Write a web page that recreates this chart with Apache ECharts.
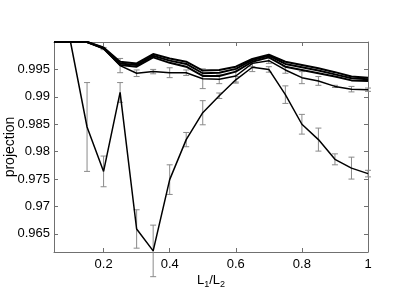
<!DOCTYPE html>
<html>
<head>
<meta charset="utf-8">
<script src="https://cdn.jsdelivr.net/npm/echarts@6/dist/echarts.min.js"></script>
<style>html,body{margin:0;padding:0;background:#fff}#c{width:407px;height:306px}</style>
</head>
<body>
<div id="c"></div>
<script>
const xs = [0.05,0.1,0.15,0.2,0.25,0.3,0.35,0.4,0.45,0.5,0.55,0.6,0.65,0.7,0.75,0.8,0.85,0.9,0.95,1.0];
const dip = [1.0,1.0,0.9845,0.9764,0.9908,0.9659,0.9619,0.9749,0.9822,0.9871,0.9902,0.9931,0.9954,0.9950,0.9904,0.9850,0.9822,0.9786,0.9770,0.9760];
const dipErr = [0,0,0.0081,0.0028,0.0018,0.0035,0.0047,0.0027,0.0013,0.0022,0.0005,0.0006,0.0008,0.0005,0.0016,0.0018,0.0021,0.0010,0.0020,0.0006];
const lineA = [1,1,1,0.9990,0.9964,0.9961,0.9978,0.9970,0.9964,0.9948,0.9949,0.9955,0.9969,0.9977,0.9964,0.9958,0.9952,0.9945,0.9937,0.9935];
const lineB = [1,1,1,0.9989,0.9961,0.9958,0.9975,0.9966,0.9960,0.9943,0.9944,0.9951,0.9967,0.9975,0.9960,0.9954,0.9948,0.9941,0.9934,0.9932];
const lineC = [1,1,1,0.9988,0.9958,0.9955,0.9972,0.9962,0.9955,0.9938,0.9938,0.9946,0.9964,0.9972,0.9955,0.9949,0.9943,0.9937,0.9930,0.9929];
const lineD = [1,1,1,0.9988,0.9957,0.9943,0.9946,0.9944,0.9944,0.9933,0.9932,0.9938,0.9961,0.9966,0.9949,0.9935,0.9929,0.9919,0.9914,0.9913];
const errD = [0,0,0,0.0002,0.0013,0.0006,0.0004,0.0009,0.0005,0.0018,0.0008,0.0011,0.0006,0.0005,0.0006,0.0011,0.0008,0.0002,0.0005,0.0003];
const xTicks = [0.2,0.4,0.6,0.8,1];
const yTicks = [0.965,0.97,0.975,0.98,0.985,0.99,0.995];

const pairs = (ys) => xs.map((x,i)=>[x,ys[i]]);
const errData = (ys, es) => xs.map((x,i)=>[x, ys[i]-es[i], ys[i]+es[i]]).filter((d,i)=>es[i]>0);

function errRender(params, api){
  const x = api.value(0);
  const p1 = api.coord([x, api.value(1)]);
  const p2 = api.coord([x, api.value(2)]);
  const w = 3;
  const st = {stroke:'#8a8a8a', lineWidth:1};
  return {type:'group', children:[
    {type:'line', shape:{x1:p1[0],y1:p1[1],x2:p2[0],y2:p2[1]}, style:st},
    {type:'line', shape:{x1:p1[0]-w,y1:p1[1],x2:p1[0]+w,y2:p1[1]}, style:st},
    {type:'line', shape:{x1:p2[0]-w,y1:p2[1],x2:p2[0]+w,y2:p2[1]}, style:st}
  ]};
}

const font = 'Liberation Sans, Arial, sans-serif';
const axisCol = '#707070';
const chart = echarts.init(document.getElementById('c'));
const lineSeries = (ys, w) => ({type:'line', data:pairs(ys), showSymbol:false, symbol:'none',
  lineStyle:{color:'#000', width:w}, z:5, silent:true, animation:false});

chart.setOption({
  animation:false,
  grid:{left:54, right:39, top:42, bottom:54, containLabel:false, outerBoundsMode:'none'},
  xAxis:[{
    type:'value', min:0.05, max:1, position:'bottom',
    axisLine:{lineStyle:{color:axisCol}},
    axisTick:{inside:true, length:4, lineStyle:{color:axisCol}, customValues:xTicks},
    axisLabel:{color:'#000', fontSize:13, fontFamily:font, customValues:xTicks, margin:6,
      formatter:(v)=>String(Math.round(v*10)/10)},
    splitLine:{show:false},
    name:'{a|L}{s|1}{a|/L}{s|2}', nameLocation:'middle', nameGap:20, nameMoveOverlap:false,
    nameTextStyle:{rich:{a:{fontSize:13, fontFamily:font, color:'#000'}, s:{fontSize:9, fontFamily:font, color:'#000', padding:[8,0,0,0]}}}
  },{
    type:'value', min:0.05, max:1, position:'top',
    axisLine:{lineStyle:{color:axisCol}},
    axisTick:{inside:true, length:4, lineStyle:{color:axisCol}, customValues:xTicks},
    axisLabel:{show:false}, splitLine:{show:false}
  }],
  yAxis:[{
    type:'value', min:0.9617, max:1.0, position:'left',
    axisLine:{show:true, lineStyle:{color:axisCol}},
    axisTick:{show:true, inside:true, length:4, lineStyle:{color:axisCol}, customValues:yTicks},
    axisLabel:{color:'#000', fontSize:13, fontFamily:font, customValues:yTicks, margin:4,
      formatter:(v)=>String(Math.round(v*1000)/1000)},
    splitLine:{show:false},
    name:'projection', nameLocation:'middle', nameGap:37, nameRotate:90, nameMoveOverlap:false,
    nameTextStyle:{color:'#000', fontSize:14, fontFamily:font}
  },{
    type:'value', min:0.9617, max:1.0, position:'right',
    axisLine:{show:true, lineStyle:{color:axisCol}},
    axisTick:{show:true, inside:true, length:4, lineStyle:{color:axisCol}, customValues:yTicks},
    axisLabel:{show:false}, splitLine:{show:false}
  }],
  series:[
    {type:'custom', data:errData(dip, dipErr), renderItem:errRender, z:2, silent:true},
    {type:'custom', data:errData(lineD, errD), renderItem:errRender, z:2, silent:true},
    lineSeries(dip, 1.5),
    lineSeries(lineD, 1.5),
    lineSeries(lineC, 2),
    lineSeries(lineB, 2),
    lineSeries(lineA, 2)
  ]
});
</script>
</body>
</html>
